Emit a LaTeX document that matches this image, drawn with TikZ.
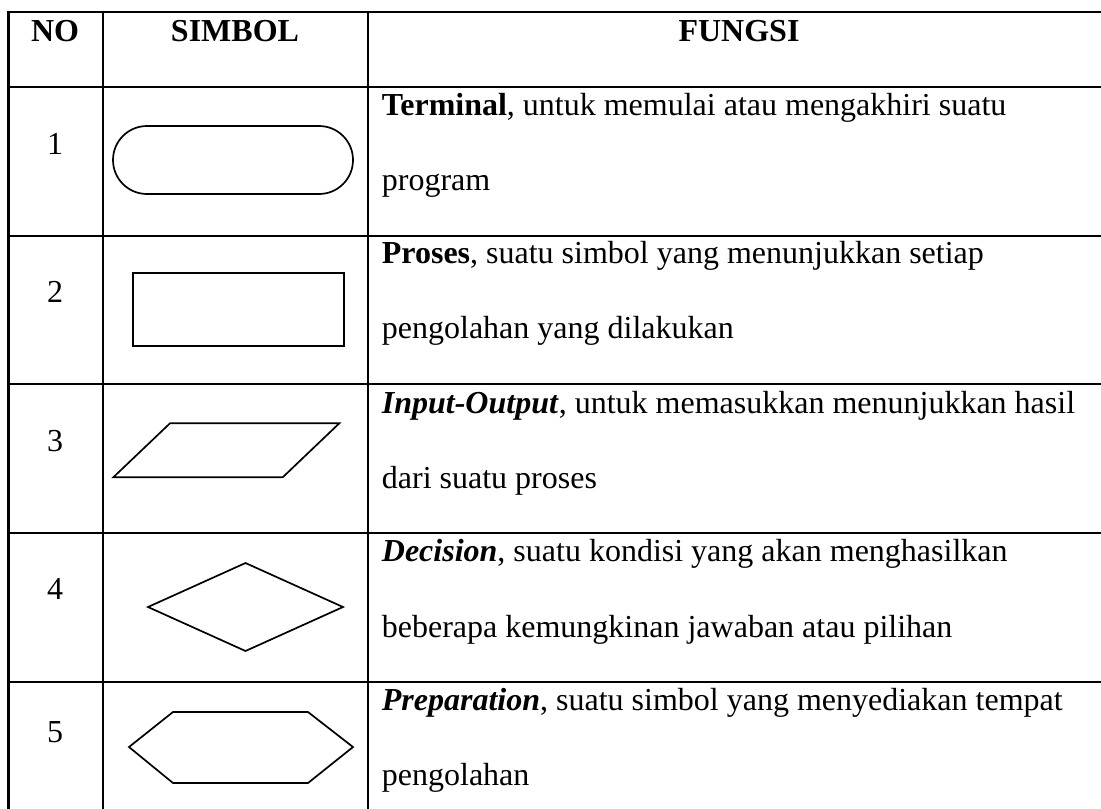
\documentclass[tikz,border=0pt]{standalone}
\usepackage{fontspec}
\setmainfont{Liberation Serif}
\begin{document}
\begin{tikzpicture}[x=1pt,y=-1pt,
  grid/.style={line width=2.6pt,black},
  shp/.style={line width=1.7pt,black,line join=miter},
  txt/.style={anchor=base west,inner sep=0pt,font=\fontsize{32}{32}\selectfont},
  ctr/.style={anchor=base,inner sep=0pt,font=\fontsize{32}{32}\selectfont},
  hdr/.style={anchor=base,inner sep=0pt,font=\fontsize{32}{32}\selectfont\bfseries}]
\useasboundingbox (0,0) rectangle (1101,809);
\fill[white] (0,0) rectangle (1101,809);
% grid
\foreach \yy in {12,87,236,384,533,682} \draw[grid] (7.2,\yy) -- (1102,\yy);
\foreach \xx in {8.5,103,368} \draw[grid] (\xx,10.7) -- (\xx,810);
% header
\node[hdr] (hno) at (55,41.7) {NO};
\node[hdr] (hsim) at (235,41.7) {SIMBOL};
\node[hdr] (hfun) at (739,41.7) {FUNGSI};
% numbers
\node[ctr] (n1) at (55,154) {1};
\node[ctr] (n2) at (55,302.7) {2};
\node[ctr] (n3) at (55,451.7) {3};
\node[ctr] (n4) at (55,599) {4};
\node[ctr] (n5) at (55,742) {5};
% shapes
\draw[shp,rounded corners=34pt] (113,126) rectangle (353,194);
\draw[shp] (132.7,273.3) rectangle (344,346);
\draw[shp] (113.3,477.3) -- (170,423.3) -- (339.3,423.3) -- (282.7,477.3) -- cycle;
\draw[shp] (148,607) -- (245.5,563) -- (343,607) -- (245.5,651) -- cycle;
\draw[shp] (129,747) -- (173,712) -- (308,712) -- (353,747) -- (308,783) -- (173,783) -- cycle;
% texts
\node[txt] (t1a) at (381.7,115) {\textbf{Terminal}, untuk memulai atau mengakhiri suatu};
\node[txt] (t1b) at (381.7,190) {program};
\node[txt] (t2a) at (381.7,263.3) {\textbf{Proses}, suatu simbol yang menunjukkan setiap};
\node[txt] (t2b) at (381.7,338.3) {pengolahan yang dilakukan};
\node[txt] (t3a) at (381.7,413.3) {\textbf{\textit{Input-Output}}, untuk memasukkan menunjukkan hasil};
\node[txt] (t3b) at (381.7,488.3) {dari suatu proses};
\node[txt] (t4a) at (381.7,561.7) {\textbf{\textit{Decision}}, suatu kondisi yang akan menghasilkan};
\node[txt] (t4b) at (381.7,637) {beberapa kemungkinan jawaban atau pilihan};
\node[txt] (t5a) at (381.7,710) {\textbf{\textit{Preparation}}, suatu simbol yang menyediakan tempat};
\node[txt] (t5b) at (381.7,785) {pengolahan};
\end{tikzpicture}
\end{document}
